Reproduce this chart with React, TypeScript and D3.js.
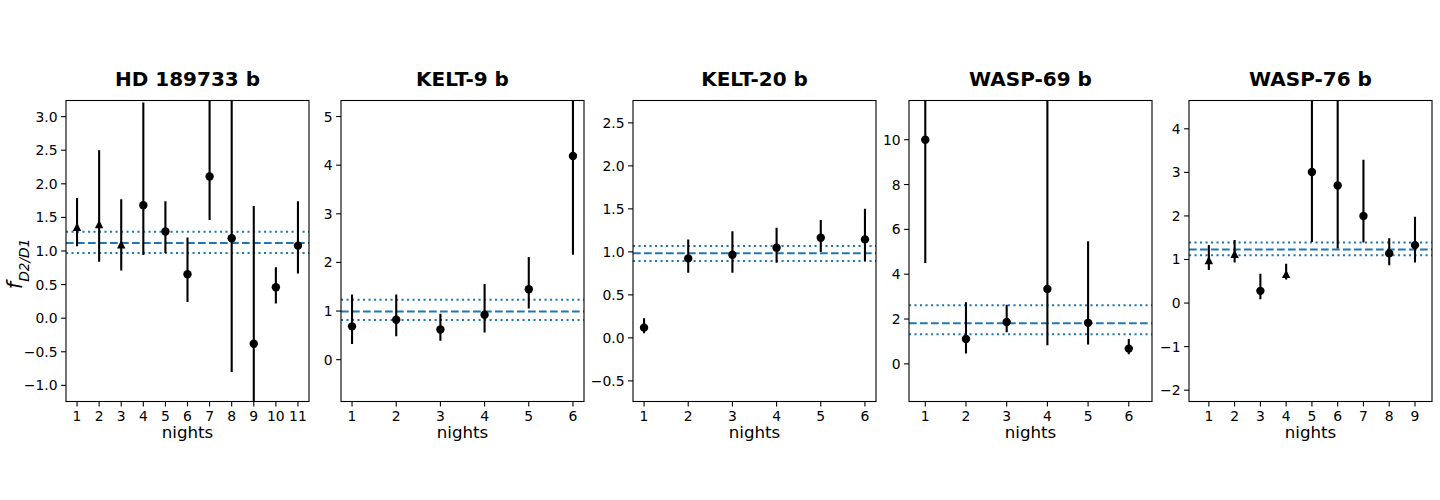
import React from "react";
import * as d3 from "d3";

// data (lower / upper = ends of the error bars)
const titles = ["HD 189733 b", "KELT-9 b", "KELT-20 b", "WASP-69 b", "WASP-76 b"];

const hdValues = [1.36, 1.40, 1.10, 1.68, 1.29, 0.655, 2.11, 1.19, -0.38, 0.46, 1.08];
const hdLower = [1.07, 0.84, 0.71, 0.94, 0.97, 0.24, 1.46, -0.80, -1.6, 0.22, 0.665];
const hdUpper = [1.79, 2.50, 1.77, 3.21, 1.74, 1.20, 3.6, 3.8, 1.67, 0.76, 1.74];
const hdMarkers = ["^", "^", "^", "o", "o", "o", "o", "o", "o", "o", "o"];

const k9Values = [0.685, 0.82, 0.62, 0.925, 1.45, 4.19];
const k9Lower = [0.32, 0.48, 0.39, 0.56, 1.05, 2.16];
const k9Upper = [1.34, 1.34, 0.945, 1.555, 2.11, 6.2];

const k20Values = [0.119, 0.924, 0.967, 1.048, 1.164, 1.145];
const k20Lower = [0.053, 0.757, 0.757, 0.874, 0.997, 0.893];
const k20Upper = [0.227, 1.145, 1.24, 1.28, 1.37, 1.50];

const w69Values = [10.0, 1.11, 1.87, 3.34, 1.83, 0.68];
const w69Lower = [4.5, 0.46, 1.41, 0.83, 0.86, 0.43];
const w69Upper = [15.5, 2.75, 2.64, 13.0, 5.47, 1.11];

const w76Values = [0.99, 1.13, 0.28, 0.67, 3.01, 2.70, 2.0, 1.14, 1.33];
const w76Lower = [0.76, 0.93, 0.09, 0.54, 1.40, 1.25, 1.39, 0.87, 0.93];
const w76Upper = [1.33, 1.45, 0.67, 0.90, 4.8, 4.9, 3.29, 1.49, 1.98];
const w76Markers = ["^", "^", "o", "^", "o", "o", "o", "o", "o"];

// weighted mean (dashed) and its band (dotted)
const means = [1.12, 0.99, 0.985, 1.81, 1.23];
const bandLow = [0.97, 0.815, 0.895, 1.32, 1.10];
const bandHigh = [1.285, 1.23, 1.067, 2.62, 1.39];

const yTickLists = [
  [-1.0, -0.5, 0.0, 0.5, 1.0, 1.5, 2.0, 2.5, 3.0],
  [0, 1, 2, 3, 4, 5],
  [-0.5, 0.0, 0.5, 1.0, 1.5, 2.0, 2.5],
  [0, 2, 4, 6, 8, 10],
  [-2, -1, 0, 1, 2, 3, 4],
];
const yTickDecimals = [1, 0, 1, 0, 0];

// layout of each axes
const lefts = [66, 341, 633, 909, 1189];
const xDomains: [number, number][] = [[0.5, 11.5], [0.75, 6.25], [0.75, 6.25], [0.6, 6.57], [0.23, 9.66]];
const yDomains: [number, number][] = [[-1.24, 3.24], [-0.86, 5.33], [-0.74, 2.76], [-1.68, 11.75], [-2.26, 4.65]];

const AX_W = 243;
const TOP = 100.5;
const BOTTOM = 401.5;
const BLUE = "#1f77b4";
const FONT = "'DejaVu Sans', sans-serif";

const panelData = [
  { values: hdValues, lower: hdLower, upper: hdUpper, markers: hdMarkers },
  { values: k9Values, lower: k9Lower, upper: k9Upper, markers: k9Values.map(() => "o") },
  { values: k20Values, lower: k20Lower, upper: k20Upper, markers: k20Values.map(() => "o") },
  { values: w69Values, lower: w69Lower, upper: w69Upper, markers: w69Values.map(() => "o") },
  { values: w76Values, lower: w76Lower, upper: w76Upper, markers: w76Markers },
];

// matplotlib '^' : bbox-centred triangle, width = height = markersize
const triangleUp: d3.SymbolType = {
  draw(ctx, size) {
    const h = Math.sqrt(size) / 2;
    ctx.moveTo(0, -h);
    ctx.lineTo(h, h);
    ctx.lineTo(-h, h);
    ctx.closePath();
  },
};
const MS = 8.4; // marker size px
const circlePath = d3.symbol(d3.symbolCircle, Math.PI * (MS / 2) ** 2)()!;
const trianglePath = d3.symbol(triangleUp, MS * MS)()!;

function Panel({ i }: { i: number }) {
  const { values, lower, upper, markers } = panelData[i];
  const left = lefts[i];
  const x = d3.scaleLinear().domain(xDomains[i]).range([left, left + AX_W]);
  const y = d3.scaleLinear().domain(yDomains[i]).range([BOTTOM, TOP]);
  const nights = d3.range(1, values.length + 1);
  const fmt = (v: number) => d3.format(`.${yTickDecimals[i]}f`)(v).replace("-", "\u2212");
  const clip = `clip-${i}`;
  const x0 = x.range()[0], x1 = x.range()[1];

  return (
    <g>
      <defs>
        <clipPath id={clip}>
          <rect x={x0} y={TOP} width={x1 - x0} height={BOTTOM - TOP} />
        </clipPath>
      </defs>
      <g clipPath={`url(#${clip})`}>
        <line x1={x0} x2={x1} y1={y(bandHigh[i])} y2={y(bandHigh[i])} stroke={BLUE} strokeWidth={2} strokeDasharray="2.1 3.4" />
        <line x1={x0} x2={x1} y1={y(means[i])} y2={y(means[i])} stroke={BLUE} strokeWidth={2} strokeDasharray="7.7 3.3" />
        <line x1={x0} x2={x1} y1={y(bandLow[i])} y2={y(bandLow[i])} stroke={BLUE} strokeWidth={2} strokeDasharray="2.1 3.4" />
        {nights.map((n, j) => (
          <line key={`e${n}`} x1={x(n)} x2={x(n)} y1={y(lower[j])} y2={y(upper[j])} stroke="#000" strokeWidth={2.1} />
        ))}
        {nights.map((n, j) => (
          <path
            key={`m${n}`}
            d={markers[j] === "^" ? trianglePath : circlePath}
            transform={`translate(${x(n)},${y(values[j])})`}
            fill="#000"
          />
        ))}
      </g>
      <rect x={x0} y={TOP} width={x1 - x0} height={BOTTOM - TOP} fill="none" stroke="#000" strokeWidth={1.1} />
      {yTickLists[i].map((t) => (
        <g key={`y${t}`}>
          <line x1={x0 - 4.9} x2={x0} y1={y(t)} y2={y(t)} stroke="#000" strokeWidth={1.1} />
          <text x={x0 - 8.4} y={y(t)} dy="0.36em" textAnchor="end" fontSize={13.9} fontFamily={FONT} fill="#000">
            {fmt(t)}
          </text>
        </g>
      ))}
      {nights.map((n) => (
        <g key={`x${n}`}>
          <line x1={x(n)} x2={x(n)} y1={BOTTOM} y2={BOTTOM + 4.9} stroke="#000" strokeWidth={1.1} />
          <text x={x(n)} y={BOTTOM + 19} textAnchor="middle" fontSize={13.9} fontFamily={FONT} fill="#000">
            {n}
          </text>
        </g>
      ))}
      <text x={(x0 + x1) / 2} y={437.5} textAnchor="middle" fontSize={16.7} fontFamily={FONT} fill="#000">
        nights
      </text>
      <text x={(x0 + x1) / 2} y={86} textAnchor="middle" fontSize={20} fontWeight="bold" fontFamily={FONT} fill="#000">
        {titles[i]}
      </text>
    </g>
  );
}

export default function App() {
  return (
    <div style={{ position: "fixed", left: 0, top: 0, width: 1440, height: 500, background: "#fff" }}>
      <svg width={1440} height={500} viewBox="0 0 1440 500">
        <rect width={1440} height={500} fill="#fff" />
        {titles.map((_, i) => (
          <Panel key={i} i={i} />
        ))}
        <text transform="translate(22,264) rotate(-90)" textAnchor="middle" fontFamily={FONT} fill="#000">
          <tspan fontSize={21} fontStyle="italic">f</tspan>
          <tspan fontSize={13.7} fontStyle="italic" dy={7}>D2/D1</tspan>
        </text>
      </svg>
    </div>
  );
}
